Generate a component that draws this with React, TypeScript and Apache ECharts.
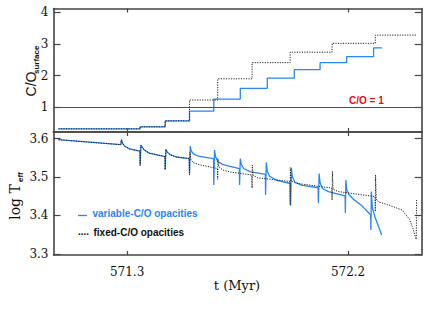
import React, { useEffect, useRef } from "react";
import * as echarts from "echarts";

// Top panel: surface C/O ratio (step curves) [t (Myr), C/O]
const coVariable: [number, number][] = [
  [571.02, 0.32], [571.353, 0.385], [571.455, 0.57], [571.554, 0.88], [571.653, 1.26],
  [571.761, 1.6], [571.871, 1.92], [571.981, 2.19], [572.086, 2.41], [572.194, 2.6],
  [572.304, 2.875], [572.338, 2.875],
];
const coFixed: [number, number][] = [
  [571.02, 0.32], [571.353, 0.385], [571.455, 0.57], [571.554, 1.23], [571.669, 1.9],
  [571.809, 2.41], [571.964, 2.74], [572.135, 3.02], [572.311, 3.28], [572.479, 3.28],
];

// Bottom panel: log Teff [t (Myr), log Teff]
const teffVariable: [number, number][] = [
  [571.02, 3.597], [571.274, 3.584], [571.277, 3.597], [571.281, 3.588], [571.29, 3.58], [571.31, 3.573],
  [571.352, 3.567], [571.353, 3.53], [571.356, 3.583], [571.36, 3.579], [571.37, 3.57], [571.39, 3.562],
  [571.454, 3.553], [571.455, 3.519], [571.458, 3.572], [571.462, 3.566], [571.475, 3.558], [571.5, 3.552],
  [571.553, 3.548], [571.554, 3.509], [571.557, 3.58], [571.561, 3.568], [571.57, 3.56], [571.59, 3.554],
  [571.652, 3.548], [571.653, 3.479], [571.656, 3.57], [571.66, 3.553], [571.67, 3.54], [571.69, 3.532],
  [571.757, 3.522], [571.758, 3.479], [571.761, 3.548], [571.765, 3.533], [571.775, 3.522], [571.8, 3.514],
  [571.863, 3.507], [571.864, 3.453], [571.867, 3.538], [571.871, 3.515], [571.88, 3.502], [571.91, 3.491],
  [571.965, 3.483], [571.966, 3.425], [571.969, 3.524], [571.973, 3.5], [571.983, 3.487], [572.01, 3.479],
  [572.078, 3.472], [572.079, 3.432], [572.082, 3.509], [572.086, 3.485], [572.096, 3.47], [572.12, 3.462],
  [572.188, 3.451], [572.189, 3.406], [572.191, 3.492], [572.195, 3.466], [572.203, 3.455], [572.22, 3.443],
  [572.26, 3.423], [572.292, 3.401], [572.293, 3.362], [572.295, 3.462], [572.299, 3.42], [572.31, 3.395],
  [572.337, 3.349],
];
const teffFixed: [number, number][] = [
  [571.02, 3.597], [571.274, 3.584], [571.277, 3.597], [571.281, 3.588], [571.29, 3.58], [571.31, 3.573],
  [571.352, 3.567], [571.353, 3.53], [571.356, 3.583], [571.36, 3.579], [571.37, 3.57], [571.39, 3.562],
  [571.454, 3.553], [571.455, 3.519], [571.458, 3.572], [571.462, 3.566], [571.475, 3.558], [571.5, 3.552],
  [571.553, 3.548], [571.554, 3.505], [571.556, 3.565], [571.56, 3.545], [571.57, 3.537], [571.6, 3.531],
  [571.668, 3.522], [571.669, 3.494], [571.67, 3.548], [571.673, 3.527], [571.69, 3.518], [571.72, 3.513],
  [571.808, 3.505], [571.809, 3.471], [571.81, 3.531], [571.813, 3.505], [571.83, 3.498], [571.9, 3.493],
  [571.963, 3.488], [571.964, 3.428], [571.965, 3.524], [571.968, 3.49], [571.985, 3.484], [572.134, 3.471],
  [572.135, 3.44], [572.136, 3.515], [572.139, 3.468], [572.16, 3.462], [572.31, 3.449], [572.311, 3.41],
  [572.312, 3.505], [572.315, 3.44], [572.33, 3.434], [572.37, 3.426], [572.42, 3.414], [572.45, 3.39],
  [572.465, 3.365], [572.476, 3.34], [572.478, 3.338], [572.479, 3.44],
];

const xTicks = [571.3, 572.2];
const coTicks = [1, 2, 3, 4];
const teffTicks = [3.3, 3.4, 3.5, 3.6];

const BLUE = "#2a86f0";
const FRAME = "#444";
const SERIF = "'DejaVu Serif', serif";
const SANS = "'Liberation Sans', Arial, sans-serif";

export default function App() {
  const ref = useRef<HTMLDivElement>(null);
  useEffect(() => {
    document.body.style.margin = "0";
    const chart = echarts.init(ref.current!, undefined, { renderer: "svg" });
    const axisLine = { show: true, lineStyle: { color: FRAME, width: 1.6 } };
    const xAx = (grid: number, pos: "top" | "bottom", labels: boolean) => ({
      type: "value",
      gridIndex: grid,
      position: pos,
      min: 571.0,
      max: 572.5,
      axisLine,
      splitLine: { show: false },
      axisTick: { show: true, inside: true, length: 4, customValues: xTicks, lineStyle: { color: FRAME, width: 1.2 } },
      axisLabel: labels
        ? { show: true, customValues: xTicks, margin: 11, fontSize: 12, fontFamily: SERIF, color: "#111", formatter: (v: number) => v.toFixed(1) }
        : { show: false },
    });
    const yAx = (grid: number, pos: "left" | "right", min: number, max: number, ticks: number[], labels: boolean, dec: number) => ({
      type: "value",
      gridIndex: grid,
      position: pos,
      min,
      max,
      axisLine,
      splitLine: { show: false },
      axisTick: { show: true, inside: true, length: 7, customValues: ticks, lineStyle: { color: FRAME, width: 1.2 } },
      axisLabel: labels
        ? { show: true, customValues: ticks, margin: 5, fontSize: 12, fontFamily: SERIF, color: "#111", formatter: (v: number) => v.toFixed(dec) }
        : { show: false },
    });
    chart.setOption({
      animation: false,
      backgroundColor: "#fff",
      grid: [
        { left: 53.5, right: 6.3, top: 8.5, height: 123.5 },
        { left: 53.5, right: 6.3, top: 132, height: 123 },
      ],
      xAxis: [xAx(0, "bottom", false), xAx(0, "top", false), xAx(1, "bottom", true), xAx(1, "top", false)],
      yAxis: [
        yAx(0, "left", 0.22, 4.12, coTicks, true, 0),
        yAx(0, "right", 0.22, 4.12, coTicks, false, 0),
        yAx(1, "left", 3.297, 3.617, teffTicks, true, 1),
        yAx(1, "right", 3.297, 3.617, teffTicks, false, 1),
      ],
      series: [
        {
          type: "line", xAxisIndex: 0, yAxisIndex: 0, data: coVariable, step: "end", showSymbol: false,
          lineStyle: { color: BLUE, width: 1.3 },
          markLine: {
            silent: true, symbol: "none", label: { show: false },
            lineStyle: { color: "#dd1111", type: "solid", width: 1 },
            data: [{ yAxis: 1 }],
          },
        },
        {
          type: "line", xAxisIndex: 0, yAxisIndex: 0, data: coFixed, step: "end", showSymbol: false,
          lineStyle: { color: "#222", width: 1, type: [1.2, 1.3] },
        },
        {
          type: "line", xAxisIndex: 2, yAxisIndex: 2, data: teffVariable, showSymbol: false,
          lineStyle: { color: BLUE, width: 1.3 },
        },
        {
          type: "line", xAxisIndex: 2, yAxisIndex: 2, data: teffFixed, showSymbol: false,
          lineStyle: { color: "#222", width: 1, type: [1.2, 1.3] },
        },
      ],
      graphic: [
        { type: "text", x: 31, y: 84, rotation: Math.PI / 2, style: { text: "C/O", font: `14px ${SANS}`, fill: "#111", align: "center", verticalAlign: "middle" } },
        { type: "text", x: 36, y: 74, rotation: Math.PI / 2, style: { text: "surface", font: `bold 8px ${SANS}`, fill: "#111", align: "left", verticalAlign: "middle" } },
        { type: "text", x: 15, y: 202, rotation: Math.PI / 2, style: { text: "log T", font: `14px ${SERIF}`, fill: "#111", align: "center", verticalAlign: "middle" } },
        { type: "text", x: 20, y: 182, rotation: Math.PI / 2, style: { text: "eff", font: `bold 8px ${SANS}`, fill: "#111", align: "left", verticalAlign: "middle" } },
        { type: "text", x: 237, y: 285, style: { text: "t (Myr)", font: `13px ${SERIF}`, fill: "#111", align: "center", verticalAlign: "middle" } },
        { type: "text", x: 349, y: 100, style: { text: "C/O = 1", font: `bold 10px ${SANS}`, fill: "#dd1111", align: "left", verticalAlign: "middle" } },
        { type: "line", shape: { x1: 78, y1: 215.5, x2: 87, y2: 215.5 }, style: { stroke: BLUE, lineWidth: 1.3 } },
        { type: "text", x: 92.5, y: 213.5, style: { text: "variable-C/O opacities", font: `bold 10px ${SANS}`, fill: BLUE, align: "left", verticalAlign: "middle" } },
        { type: "text", x: 78, y: 231, style: { text: "....", font: `bold 10px ${SANS}`, fill: "#111", align: "left", verticalAlign: "middle" } },
        { type: "text", x: 93.5, y: 232, style: { text: "fixed-C/O opacities", font: `bold 10px ${SANS}`, fill: "#111", align: "left", verticalAlign: "middle" } },
      ],
    });
    return () => chart.dispose();
  }, []);
  return <div ref={ref} style={{ position: "absolute", left: 0, top: 0, width: 428, height: 315 }} />;
}
